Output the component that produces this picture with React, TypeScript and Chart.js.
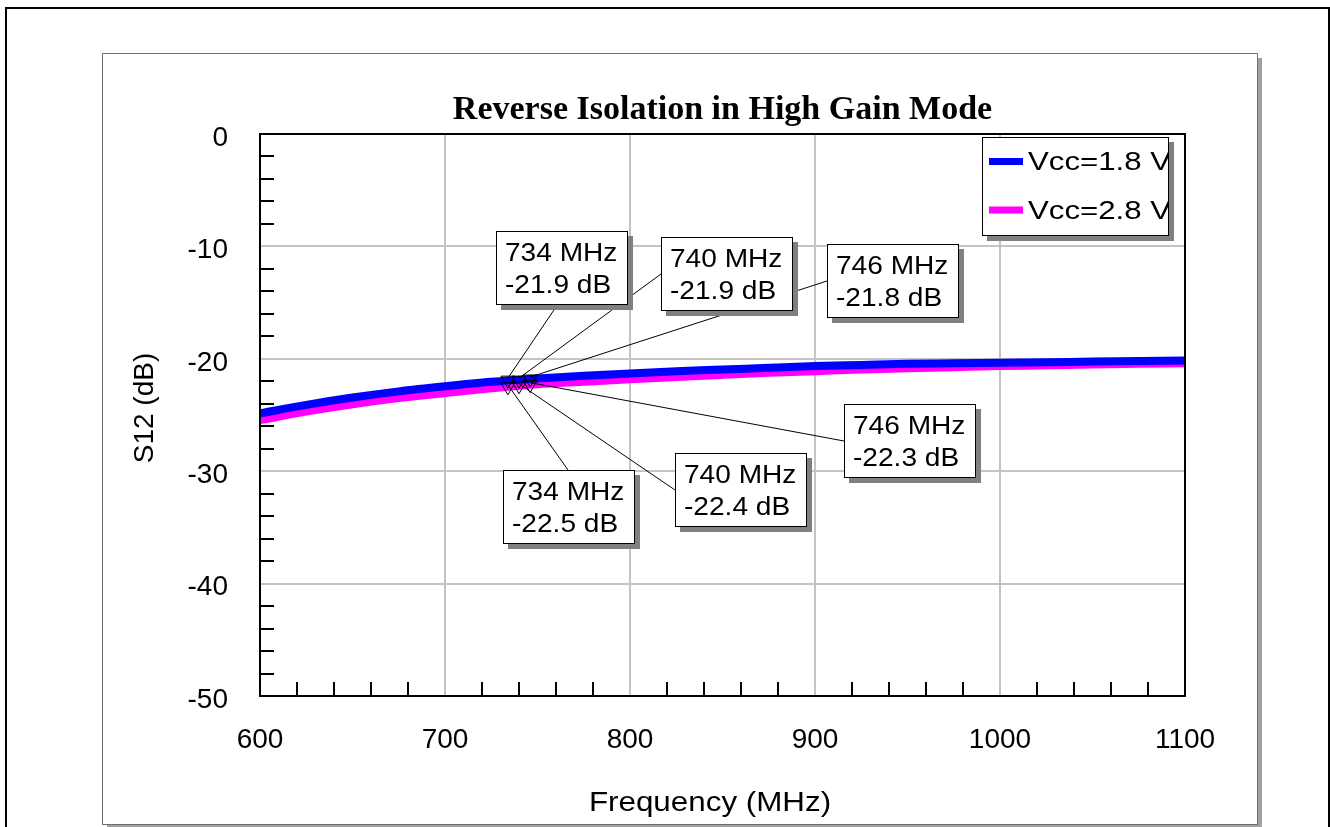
import { useEffect, useRef } from 'react';
import { Chart, registerables } from 'chart.js';

Chart.register(...registerables);

// ---------- data ----------
const FREQ_MHZ = [600, 625, 650, 675, 700, 725, 750, 775, 800, 825, 850, 875, 900, 925, 950, 975, 1000, 1025, 1050, 1075, 1100];
const S12_VCC18 = [-24.85, -24.1, -23.45, -22.9, -22.45, -22.05, -21.75, -21.5, -21.3, -21.1, -20.95, -20.8, -20.65, -20.55, -20.45, -20.4, -20.35, -20.3, -20.25, -20.2, -20.15];
const S12_VCC28 = [-25.45, -24.7, -24.05, -23.5, -23.05, -22.63, -22.27, -22.05, -21.83, -21.62, -21.43, -21.25, -21.1, -20.95, -20.85, -20.75, -20.65, -20.58, -20.5, -20.45, -20.4];
const SERIES_LABELS = ['Vcc=1.8 V', 'Vcc=2.8 V'];
const MARKER_FREQ = [734, 740, 746];
const MARKER_VCC18 = [-21.9, -21.9, -21.8];
const MARKER_VCC28 = [-22.5, -22.4, -22.3];
const TITLE = 'Reverse Isolation in High Gain Mode';
const X_TITLE = 'Frequency (MHz)';
const Y_TITLE = 'S12 (dB)';

// ---------- layout of annotation boxes (pixel offsets from their marker) ----------
const BOXES_VCC18 = [
  { dx: -12, dy: -149, anchor: 'bottom' },
  { dx: 142, dy: -143, anchor: 'left' },
  { dx: 297, dy: -135, anchor: 'left' },
];
const BOXES_VCC28 = [
  { dx: -5, dy: 83, anchor: 'top' },
  { dx: 156, dy: 67, anchor: 'left' },
  { dx: 314, dy: 19, anchor: 'left' },
];

const W = 1330;
const H = 827;
const SANS = '"Liberation Sans", Arial, sans-serif';
const SERIF = '"Liberation Serif", "Times New Roman", serif';
const BLUE = '#0000ff';
const MAGENTA = '#ff00ff';

const BOX_W = 131;
const BOX_H = 73;

function markerPixels(chart: any, vals: number[]) {
  const xs = chart.scales.x;
  const ys = chart.scales.y;
  return MARKER_FREQ.map((f, i) => ({ x: xs.getPixelForValue(f), y: ys.getPixelForValue(vals[i]) }));
}

function boxAnchor(b: any, left: number, top: number) {
  if (b.anchor === 'bottom') return { x: left + 62, y: top + BOX_H };
  if (b.anchor === 'top') return { x: left + 65, y: top };
  return { x: left, y: top + 37 };
}

function wideText(ctx: any, text: string, x: number, y: number, sx: number) {
  ctx.save();
  ctx.translate(x, y);
  ctx.scale(sx, 1);
  ctx.fillText(text, 0, 0);
  ctx.restore();
}

const framePlugin = {
  id: 'frame',
  beforeDraw(chart: any) {
    const ctx = chart.ctx;
    ctx.save();
    ctx.fillStyle = '#ffffff';
    ctx.fillRect(0, 0, W, H);
    ctx.strokeStyle = '#000';
    ctx.lineWidth = 2;
    ctx.strokeRect(6, 8, 1323, 860);
    ctx.fillStyle = '#a0a0a0';
    ctx.fillRect(1257, 58, 5, 800);
    ctx.fillRect(107, 825, 1155, 10);
    ctx.fillStyle = '#ffffff';
    ctx.fillRect(102, 53, 1155, 771);
    ctx.strokeStyle = '#707070';
    ctx.lineWidth = 1;
    ctx.strokeRect(102.5, 53.5, 1155, 771);
    ctx.restore();
  },
};

const overlayPlugin = {
  id: 'overlay',
  afterDatasetDraw(chart: any, args: any) {
    if (args.index !== 0) return;
    const ctx = chart.ctx;
    ctx.save();
    ctx.strokeStyle = '#000';
    ctx.lineWidth = 1;
    const sets: [number[], any[]][] = [[MARKER_VCC18, BOXES_VCC18], [MARKER_VCC28, BOXES_VCC28]];
    sets.forEach(([vals, boxes]) => {
      const pts = markerPixels(chart, vals);
      pts.forEach((p, i) => {
        const b = boxes[i];
        const left = Math.round(p.x + b.dx);
        const top = Math.round(p.y + b.dy);
        const a = boxAnchor(b, left, top);
        ctx.beginPath();
        ctx.moveTo(a.x, a.y);
        ctx.lineTo(p.x, p.y - 2);
        ctx.stroke();
      });
    });
    ctx.restore();
  },
  afterDatasetsDraw(chart: any) {
    const ctx = chart.ctx;
    const { left, right, top, bottom } = chart.chartArea;
    const xs = chart.scales.x;
    const ys = chart.scales.y;
    ctx.save();
    // plot frame
    ctx.strokeStyle = '#000';
    ctx.lineWidth = 2;
    ctx.strokeRect(left, top, right - left, bottom - top);
    // minor ticks (inside)
    ctx.beginPath();
    for (let v = -48; v < 0; v += 2) {
      if (v % 10 === 0) continue;
      const y = Math.round(ys.getPixelForValue(v));
      ctx.moveTo(left, y);
      ctx.lineTo(left + 14, y);
    }
    for (let f = 620; f < 1100; f += 20) {
      if (f % 100 === 0) continue;
      const x = Math.round(xs.getPixelForValue(f));
      ctx.moveTo(x, bottom);
      ctx.lineTo(x, bottom - 14);
    }
    ctx.stroke();

    // annotation boxes
    const sets: [number[], any[]][] = [[MARKER_VCC18, BOXES_VCC18], [MARKER_VCC28, BOXES_VCC28]];
    sets.forEach(([vals, boxes]) => {
      const pts = markerPixels(chart, vals);
      pts.forEach((p, i) => {
        const b = boxes[i];
        const bl = Math.round(p.x + b.dx);
        const bt = Math.round(p.y + b.dy);
        ctx.fillStyle = '#808080';
        ctx.fillRect(bl + 5, bt + 5, BOX_W + 1, BOX_H + 1);
        ctx.fillStyle = '#ffffff';
        ctx.fillRect(bl, bt, BOX_W, BOX_H);
        ctx.strokeStyle = '#000';
        ctx.lineWidth = 1;
        ctx.strokeRect(bl + 0.5, bt + 0.5, BOX_W, BOX_H);
        ctx.fillStyle = '#000';
        ctx.font = '26px ' + SANS;
        ctx.textAlign = 'left';
        ctx.textBaseline = 'alphabetic';
        wideText(ctx, MARKER_FREQ[i] + ' MHz', bl + 9, bt + 30, 1.08);
        wideText(ctx, vals[i].toFixed(1) + ' dB', bl + 9, bt + 62, 1.08);
      });
    });

    // legend
    const lx = 982, ly = 137, lw = 186, lh = 98;
    ctx.fillStyle = '#808080';
    ctx.fillRect(lx + 5, ly + 5, lw + 1, lh + 1);
    ctx.fillStyle = '#fff';
    ctx.fillRect(lx, ly, lw, lh);
    ctx.strokeStyle = '#000';
    ctx.lineWidth = 1;
    ctx.strokeRect(lx + 0.5, ly + 0.5, lw, lh);
    const colors = [BLUE, MAGENTA];
    SERIES_LABELS.forEach((lab, i) => {
      const cy = 161.5 + i * 48.5;
      ctx.strokeStyle = colors[i];
      ctx.lineWidth = 7;
      ctx.lineCap = 'butt';
      ctx.beginPath();
      ctx.moveTo(989, cy);
      ctx.lineTo(1023, cy);
      ctx.stroke();
      ctx.save();
      ctx.beginPath();
      ctx.rect(lx, ly, lw, lh);
      ctx.clip();
      ctx.fillStyle = '#000';
      ctx.font = '26px ' + SANS;
      ctx.textAlign = 'left';
      ctx.textBaseline = 'alphabetic';
      wideText(ctx, lab, 1028, cy + 8.5, 1.2);
      ctx.restore();
    });

    // titles
    ctx.fillStyle = '#000';
    ctx.textAlign = 'center';
    ctx.textBaseline = 'middle';
    ctx.font = 'bold 34px ' + SERIF;
    ctx.fillText(TITLE, (left + right) / 2, 110);
    ctx.font = '28px ' + SANS;
    wideText(ctx, X_TITLE, 710, 803, 1.12);
    ctx.translate(145, 408);
    ctx.rotate(-Math.PI / 2);
    ctx.fillText(Y_TITLE, 0, 0);
    ctx.restore();
  },
};

export default function App() {
  const ref = useRef<HTMLCanvasElement | null>(null);
  useEffect(() => {
    const canvas = ref.current;
    if (!canvas) return;
    Chart.defaults.font.family = SANS;
    Chart.defaults.color = '#000';
    const chart = new Chart(canvas, {
      type: 'line',
      data: {
        datasets: [
          {
            label: SERIES_LABELS[0],
            data: FREQ_MHZ.map((f, i) => ({ x: f, y: S12_VCC18[i] })),
            borderColor: BLUE,
            borderWidth: 8,
            pointRadius: 0,
            cubicInterpolationMode: 'monotone',
            order: 1,
            clip: 0,
          },
          {
            label: SERIES_LABELS[1],
            data: FREQ_MHZ.map((f, i) => ({ x: f, y: S12_VCC28[i] })),
            borderColor: MAGENTA,
            borderWidth: 8,
            pointRadius: 0,
            cubicInterpolationMode: 'monotone',
            order: 2,
            clip: 0,
          },
          {
            label: 'markers 1.8',
            data: MARKER_FREQ.map((f, i) => ({ x: f, y: MARKER_VCC18[i] })),
            showLine: false,
            pointStyle: 'triangle',
            pointRotation: 180,
            pointRadius: 8,
            pointBorderColor: '#000',
            pointBorderWidth: 1,
            pointBackgroundColor: 'rgba(0,0,0,0)',
            order: 0,
          },
          {
            label: 'markers 2.8',
            data: MARKER_FREQ.map((f, i) => ({ x: f, y: MARKER_VCC28[i] })),
            showLine: false,
            pointStyle: 'triangle',
            pointRotation: 180,
            pointRadius: 8,
            pointBorderColor: '#000',
            pointBorderWidth: 1,
            pointBackgroundColor: 'rgba(0,0,0,0)',
            order: 0,
          },
        ],
      } as any,
      options: {
        animation: false,
        responsive: true,
        maintainAspectRatio: false,
        events: [],
        layout: { padding: { left: 0, top: 134, right: 145, bottom: 0 } },
        plugins: { legend: { display: false }, tooltip: { enabled: false }, title: { display: false } },
        scales: {
          x: {
            type: 'linear',
            min: 600,
            max: 1100,
            ticks: {
              stepSize: 100,
              autoSkip: false,
              padding: 27,
              color: '#000',
              font: { size: 28, family: SANS },
              maxRotation: 0,
              callback: (v: any) => String(v),
            },
            grid: { color: '#c4c4c4', lineWidth: 2, drawTicks: false },
            border: { display: false },
            afterFit: (s: any) => { s.height = 131; },
          },
          y: {
            type: 'linear',
            min: -50,
            max: 0,
            ticks: {
              stepSize: 10,
              padding: 32,
              labelOffset: 4,
              color: '#000',
              font: { size: 28, family: SANS },
              callback: (v: any) => String(v),
            },
            grid: { color: '#c4c4c4', lineWidth: 2, drawTicks: false },
            border: { display: false },
            afterFit: (s: any) => { s.width = 260; },
          },
        },
      } as any,
      plugins: [framePlugin, overlayPlugin],
    });
    return () => chart.destroy();
  }, []);
  return (
    <div style={{ position: 'absolute', left: 0, top: 0, width: W, height: H }}>
      <canvas ref={ref} />
    </div>
  );
}
